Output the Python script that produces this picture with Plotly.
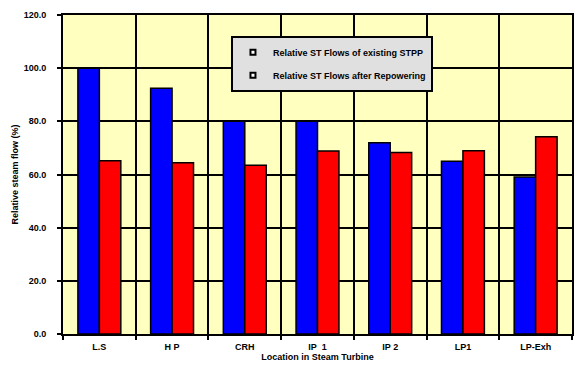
import plotly.graph_objects as go

categories = ["L.S", "H P", "CRH", "IP  1", "IP 2", "LP1", "LP-Exh"]
existing = [100.0, 92.4, 80.0, 80.0, 71.9, 65.0, 59.1]
repowered = [65.2, 64.4, 63.5, 68.8, 68.3, 68.9, 74.2]
series_names = ["Relative ST Flows of existing STPP", "Relative ST Flows after Repowering"]
y_ticks = [0, 20, 40, 60, 80, 100, 120]

FONT = "Liberation Sans, Arial, sans-serif"

fig = go.Figure()
fig.add_trace(go.Bar(x=categories, y=existing, name=series_names[0], showlegend=False,
                     marker=dict(color="#0000FF", line=dict(color="black", width=1.5))))
fig.add_trace(go.Bar(x=categories, y=repowered, name=series_names[1], showlegend=False,
                     marker=dict(color="#FF0000", line=dict(color="black", width=1.5))))
for i, nm in enumerate(series_names):
    fig.add_trace(go.Scatter(x=[None], y=[None], mode="markers", name=nm, legendgroup=str(i),
                             marker=dict(symbol="square", size=5, color="white",
                                         line=dict(color="black", width=2))))

fig.update_layout(
    width=576, height=365,
    margin=dict(l=63, r=2, t=15, b=31),
    paper_bgcolor="white",
    plot_bgcolor="#FFFFC0",
    barmode="group", bargap=0.41, bargroupgap=0,
    font=dict(family=FONT, size=9, color="black", weight="bold"),
    legend=dict(x=0.33, y=0.935, xanchor="left", yanchor="top",
                bgcolor="#E0E0E0", bordercolor="black", borderwidth=2,
                font=dict(family=FONT, size=9, color="black", weight="bold"),
                tracegroupgap=4),
    xaxis=dict(type="category", tickson="boundaries", ticks="outside", ticklen=4,
               tickwidth=2, tickcolor="black", showgrid=True, gridcolor="black", gridwidth=1.5,
               showline=True, linecolor="black", linewidth=2, mirror=True,
               range=[-0.5, 6.5], ticklabelstandoff=3,
               tickfont=dict(family=FONT, size=9, weight="bold"),
               title=dict(text="Location in Steam Turbine", standoff=3,
                          font=dict(family=FONT, size=9, weight="bold"))),
    yaxis=dict(range=[0, 120], tickvals=y_ticks, tickformat=".1f", ticks="outside", ticklen=4,
               tickwidth=2, tickcolor="black", showgrid=True, gridcolor="black", gridwidth=1.5,
               showline=True, linecolor="black", linewidth=2, mirror=True, zeroline=False,
               ticklabelstandoff=9,
               tickfont=dict(family=FONT, size=9, weight="bold"),
               title=dict(text="Relative steam flow (%)", standoff=4,
                          font=dict(family=FONT, size=9, weight="bold"))),
)

fig.write_html("out.html")
